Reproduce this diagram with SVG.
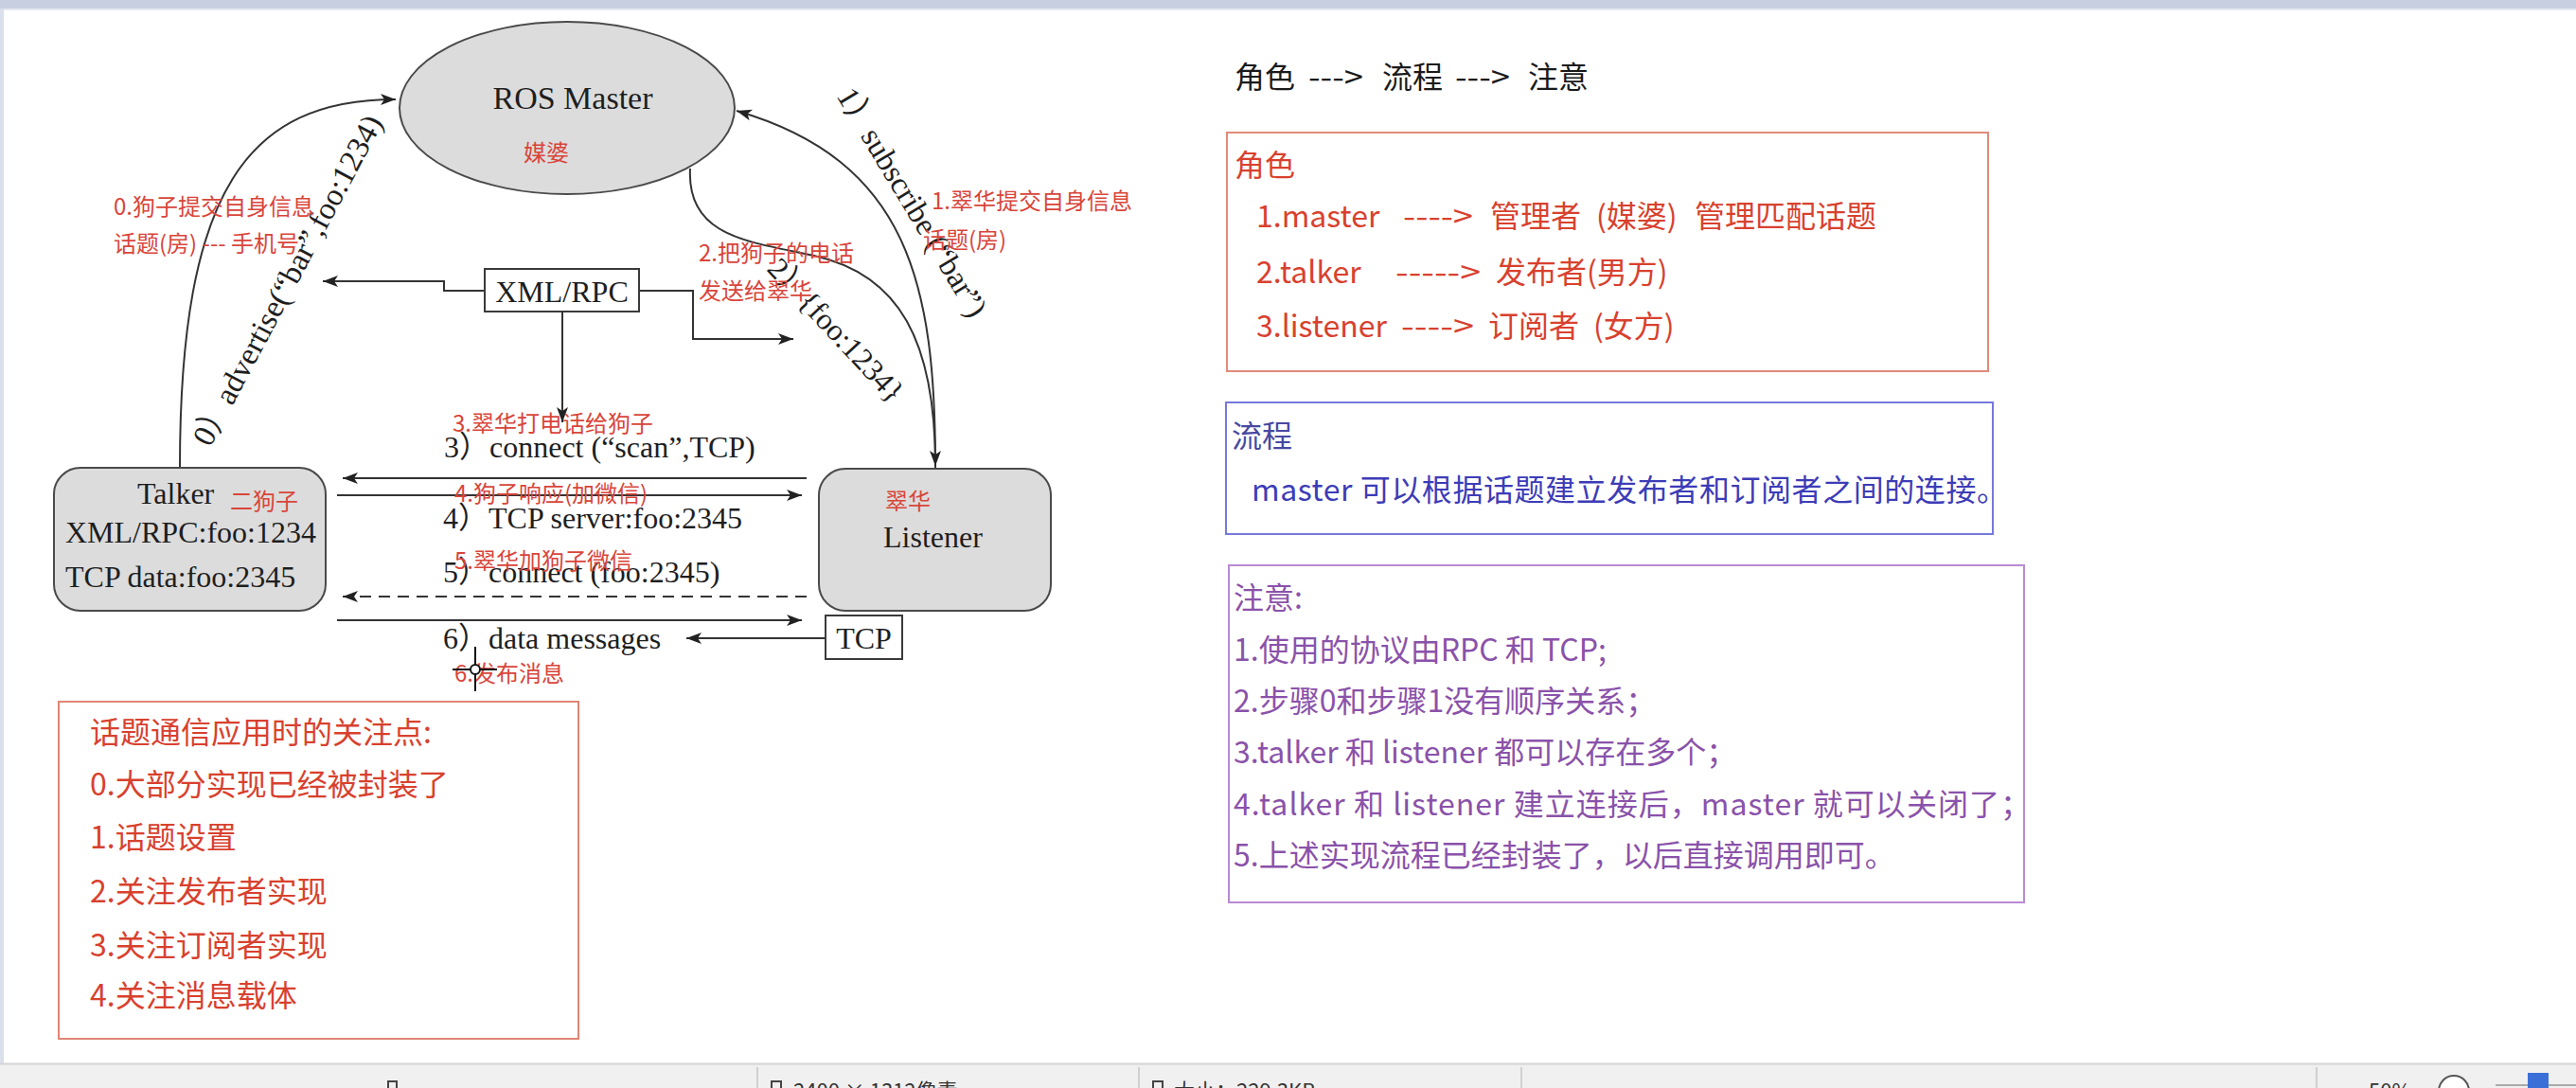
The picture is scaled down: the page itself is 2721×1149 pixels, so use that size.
<svg xmlns="http://www.w3.org/2000/svg" width="2721" height="1149" viewBox="0 0 2721 1149">
<style>
.nd{fill:#dcdcdc;stroke:#4a4a4a;stroke-width:2}
.bx{fill:#fff;stroke:#3a3a3a;stroke-width:2}
.sf{font-family:"Liberation Serif","Noto Sans CJK SC",serif;fill:#1e1e1e}
.ann{font-family:"Noto Sans CJK SC",sans-serif;fill:#d9453a;font-size:24px}
.cj{font-family:"Noto Sans CJK SC",sans-serif;font-size:32px;white-space:pre}
.conn{fill:none;stroke:#333;stroke-width:2}
.dash{stroke-dasharray:12 8}
.red{fill:#d8412e}
.blue{fill:#3c3cb8}
.pur{fill:#8a52aa}
.sb{font-family:"Noto Sans CJK SC",sans-serif;font-size:22px;fill:#333}
</style>
<defs>
<marker id="ah" markerUnits="userSpaceOnUse" markerWidth="18" markerHeight="14" refX="16" refY="6" orient="auto">
<path d="M0,0 L16,6 L0,12 L4,6 z" fill="#222"/>
</marker>
</defs>
<rect x="0" y="0" width="2721" height="1149" fill="#fff"/>
<rect x="0" y="0" width="2721" height="9" fill="#c8cfe0"/>
<rect x="0" y="9" width="2721" height="2" fill="#e6e9f1"/>
<rect x="0" y="9" width="4" height="1114" fill="#d9dfeb"/>

<g id="connectors">
<path class="conn" d="M190,494 C190,200 262,105 418,105" marker-end="url(#ah)"/>
<path class="conn" d="M988,494 C988,300 960,170 778,117" marker-end="url(#ah)"/>
<path class="conn" d="M729,178 C725,250 790,255 860,270 C950,290 988,360 988,492" marker-end="url(#ah)"/>
<path class="conn" d="M512,307 H469 V297 H341" marker-end="url(#ah)"/>
<path class="conn" d="M675,307 H732 V358 H838" marker-end="url(#ah)"/>
<path class="conn" d="M594,329 V446" marker-end="url(#ah)"/>
<path class="conn" d="M852,505 H362" marker-end="url(#ah)"/>
<path class="conn" d="M356,523 H847" marker-end="url(#ah)"/>
<path class="conn dash" d="M852,630 H362" marker-end="url(#ah)"/>
<path class="conn" d="M356,655 H847" marker-end="url(#ah)"/>
<path class="conn" d="M872,674 H725" marker-end="url(#ah)"/>
</g>

<g id="master">
<ellipse class="nd" cx="599" cy="114" rx="177" ry="91"/>
<text class="sf" x="605" y="115" font-size="34" text-anchor="middle">ROS Master</text>
<text class="ann" x="577" y="170" text-anchor="middle">媒婆</text>
</g>

<g id="talker">
<rect class="nd" x="57" y="494" width="287" height="151" rx="28"/>
<text class="sf" x="145" y="532" font-size="32">Talker</text>
<text class="ann" x="243" y="538">二狗子</text>
<text class="sf" x="69" y="573" font-size="32">XML/RPC:foo:1234</text>
<text class="sf" x="69" y="620" font-size="32">TCP data:foo:2345</text>
</g>

<g id="listener">
<rect class="nd" x="865" y="495" width="245" height="150" rx="28"/>
<text class="ann" x="935" y="538">翠华</text>
<text class="sf" x="933" y="578" font-size="32">Listener</text>
</g>

<g id="xmlrpc">
<rect class="bx" x="512" y="284" width="163" height="45"/>
<text class="sf" x="593.5" y="319" font-size="32" text-anchor="middle">XML/RPC</text>
</g>

<g id="tcp">
<rect class="bx" x="872" y="650" width="81" height="46"/>
<text class="sf" x="912.5" y="685" font-size="32" text-anchor="middle">TCP</text>
</g>

<g id="labels">
<text class="sf" font-size="33" transform="translate(222,473) rotate(-62)">0）advertise(“bar”,foo:1234)</text>
<text class="sf" font-size="33" transform="translate(883,101) rotate(59)">1）subscribe (“bar”)</text>
<text class="sf" font-size="32" transform="translate(809,285) rotate(47)">2）{foo:1234}</text>
<text class="sf" x="469" y="483" font-size="32">3）connect (“scan”,TCP)</text>
<text class="sf" x="468" y="558" font-size="32">4）TCP server:foo:2345</text>
<text class="sf" x="468" y="615" font-size="32">5）connect (foo:2345)</text>
<text class="sf" x="468" y="685" font-size="32">6）data messages</text>
<text class="ann" x="120" y="227">0.狗子提交自身信息</text>
<text class="ann" x="120" y="266">话题(房) --- 手机号</text>
<text class="ann" x="984" y="221">1.翠华提交自身信息</text>
<text class="ann" x="975" y="262">话题(房)</text>
<text class="ann" x="738" y="276">2.把狗子的电话</text>
<text class="ann" x="738" y="316">发送给翠华</text>
<text class="ann" x="478" y="456">3.翠华打电话给狗子</text>
<text class="ann" x="480" y="530">4.狗子响应(加微信)</text>
<text class="ann" x="480" y="601">5.翠华加狗子微信</text>
<text class="ann" x="480" y="720">6.发布消息</text>
</g>

<g id="cursor" stroke="#111" stroke-width="2" fill="none">
<line x1="502" y1="683" x2="502" y2="730"/>
<line x1="478" y1="707" x2="525" y2="707"/>
<circle cx="502" cy="707" r="5" fill="#fff"/>
</g>

<g id="focus-box">
<rect x="62" y="741" width="549" height="356" fill="none" stroke="#e08575" stroke-width="2"/>
<text class="cj red" x="95" y="785">话题通信应用时的关注点:</text>
<text class="cj red" x="95" y="840">0.大部分实现已经被封装了</text>
<text class="cj red" x="95" y="896">1.话题设置</text>
<text class="cj red" x="95" y="953">2.关注发布者实现</text>
<text class="cj red" x="95" y="1010">3.关注订阅者实现</text>
<text class="cj red" x="95" y="1063">4.关注消息载体</text>
</g>

<g id="heading">
<text class="cj" fill="#1a1a1a" y="93"><tspan x="1304">角色</tspan><tspan x="1382" textLength="58" lengthAdjust="spacingAndGlyphs">---&gt;</tspan><tspan x="1460">流程</tspan><tspan x="1537" textLength="58" lengthAdjust="spacingAndGlyphs">---&gt;</tspan><tspan x="1614">注意</tspan></text>
</g>

<g id="roles-box">
<rect x="1296" y="140" width="804" height="252" fill="none" stroke="#e08a7a" stroke-width="2"/>
<text class="cj red" x="1304" y="186">角色</text>
<text class="cj red" y="240"><tspan x="1327">1.master</tspan><tspan x="1482" textLength="74" lengthAdjust="spacingAndGlyphs">----&gt;</tspan><tspan x="1574">管理者</tspan><tspan x="1686">(媒婆)</tspan><tspan x="1790">管理匹配话题</tspan></text>
<text class="cj red" y="299"><tspan x="1327">2.talker</tspan><tspan x="1474" textLength="90" lengthAdjust="spacingAndGlyphs">-----&gt;</tspan><tspan x="1580">发布者(男方)</tspan></text>
<text class="cj red" y="356"><tspan x="1327">3.listener</tspan><tspan x="1480" textLength="77" lengthAdjust="spacingAndGlyphs">----&gt;</tspan><tspan x="1572">订阅者</tspan><tspan x="1683">(女方)</tspan></text>
</g>

<g id="flow-box">
<rect x="1295" y="425" width="810" height="139" fill="none" stroke="#7878dc" stroke-width="2"/>
<text class="cj" fill="#4848a0" x="1301" y="472">流程</text>
<text class="cj blue" x="1322" y="529" textLength="798">master 可以根据话题建立发布者和订阅者之间的连接。</text>
</g>

<g id="notes-box">
<rect x="1298" y="597" width="840" height="356" fill="none" stroke="#b88ad4" stroke-width="2"/>
<text class="cj pur" x="1303" y="643">注意:</text>
<text class="cj pur" x="1303" y="698">1.使用的协议由RPC 和 TCP;</text>
<text class="cj pur" x="1303" y="752">2.步骤0和步骤1没有顺序关系；</text>
<text class="cj pur" x="1303" y="806">3.talker 和 listener 都可以存在多个；</text>
<text class="cj pur" x="1303" y="861" textLength="842">4.talker 和 listener 建立连接后，master 就可以关闭了；</text>
<text class="cj pur" x="1303" y="915">5.上述实现流程已经封装了，以后直接调用即可。</text>
</g>

<g id="statusbar">
<rect x="0" y="1123" width="2721" height="26" fill="#f0f0f1"/>
<line x1="0" y1="1123.5" x2="2721" y2="1123.5" stroke="#d4d4d6" stroke-width="2"/>
<g stroke="#d0d0d2" stroke-width="2">
<line x1="800" y1="1127" x2="800" y2="1149"/>
<line x1="1203" y1="1127" x2="1203" y2="1149"/>
<line x1="1607" y1="1127" x2="1607" y2="1149"/>
<line x1="2447" y1="1127" x2="2447" y2="1149"/>
</g>
<rect x="410" y="1142" width="9" height="10" fill="none" stroke="#444" stroke-width="2"/>
<rect x="815" y="1142" width="10" height="10" fill="none" stroke="#444" stroke-width="2"/>
<rect x="1218" y="1142" width="10" height="10" fill="none" stroke="#444" stroke-width="2"/>
<text class="sb" x="838" y="1160">2400 × 1312像素</text>
<text class="sb" x="1240" y="1160">大小：229.3KB</text>
<text class="sb" x="2502" y="1160">50%</text>
<circle cx="2592" cy="1152" r="16" fill="#fff" stroke="#555" stroke-width="2"/>
<line x1="2636" y1="1146" x2="2721" y2="1146" stroke="#aaa" stroke-width="2"/>
<rect x="2670" y="1133" width="22" height="16" fill="#3b6fd8"/>
</g>
</svg>
